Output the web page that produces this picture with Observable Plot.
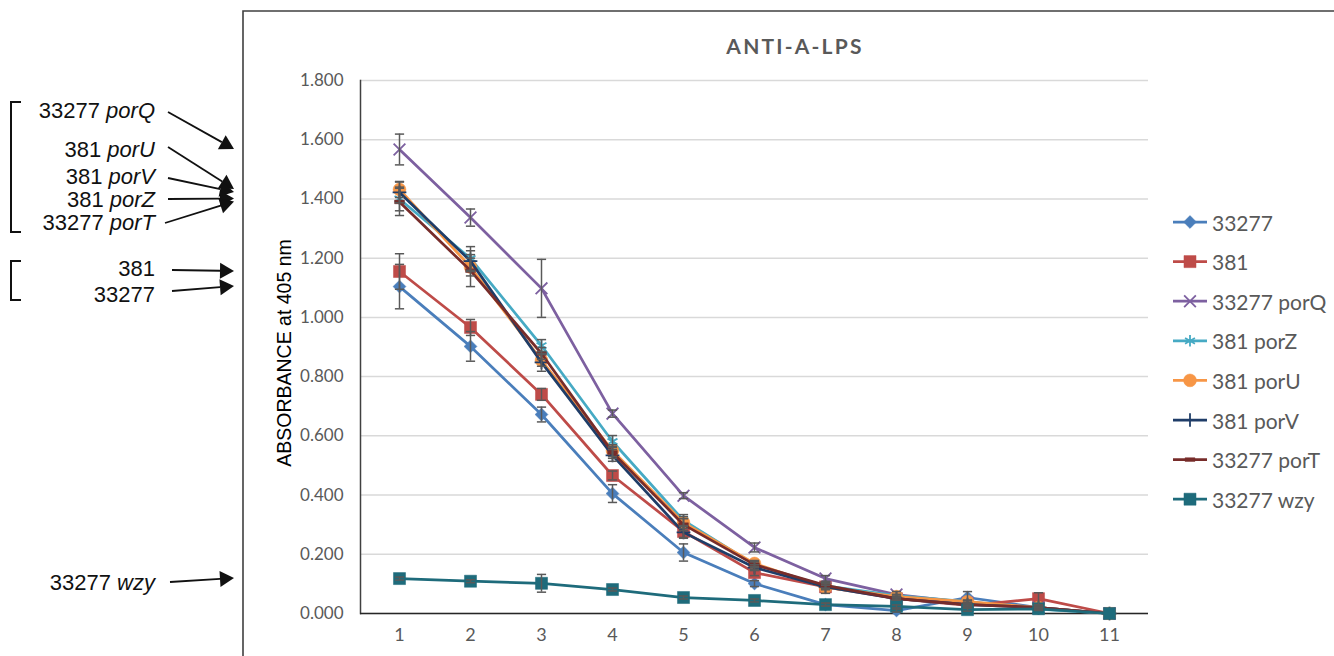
<!DOCTYPE html>
<html><head><meta charset="utf-8">
<script src="https://cdn.jsdelivr.net/npm/d3@7"></script>
<script src="https://cdn.jsdelivr.net/npm/@observablehq/plot@0.6"></script>
<style>
html,body{margin:0;padding:0;background:#fff;overflow:hidden;}
#wrap{position:relative;width:1334px;height:656px;}
#wrap > svg{position:absolute;left:0;top:0;}
</style></head><body><div id="wrap"></div>
<script>
// ---------- data ----------
const dilutions = [1,2,3,4,5,6,7,8,9,10,11];
const yTicks = [0,0.2,0.4,0.6,0.8,1.0,1.2,1.4,1.6,1.8];
const seriesNames = ["33277","381","33277 porQ","381 porZ","381 porU","381 porV","33277 porT","33277 wzy"];

const v33277     = [1.104,0.902,0.672,0.405,0.206,0.101,0.030,0.010,0.054,0.020,0];
const v381       = [1.155,0.966,0.740,0.466,0.277,0.138,0.090,0.050,0.027,0.050,0];
const v33277porQ = [1.567,1.337,1.098,0.675,0.398,0.223,0.118,0.064,0.037,0.020,0];
const v381porZ   = [1.400,1.199,0.905,0.581,0.314,0.165,0.093,0.060,0.040,0.015,0];
const v381porU   = [1.432,1.170,0.855,0.550,0.307,0.169,0.088,0.057,0.040,0.020,0];
const v381porV   = [1.422,1.190,0.848,0.534,0.274,0.155,0.090,0.050,0.030,0.020,0];
const v33277porT = [1.390,1.158,0.878,0.544,0.300,0.165,0.095,0.050,0.030,0.020,0];
const v33277wzy  = [0.118,0.109,0.102,0.081,0.054,0.044,0.030,0.024,0.013,0.016,0];

const e33277     = [0.075,0.050,0.025,0.030,0.029,0.010,0.005,0.005,0.020,0.005,0];
const e381       = [0.060,0.027,0.020,0.015,0.020,0.010,0.005,0.005,0.005,0.020,0];
const e33277porQ = [0.052,0.029,0.098,0.012,0.010,0.015,0.010,0.010,0.005,0.005,0];
const e381porZ   = [0.040,0.040,0.020,0.020,0.020,0.010,0.010,0.005,0.005,0.005,0];
const e381porU   = [0.027,0.030,0.020,0.020,0.020,0.010,0.020,0.005,0.005,0.005,0];
const e381porV   = [0.035,0.035,0.030,0.020,0.020,0.010,0.010,0.005,0.005,0.005,0];
const e33277porT = [0.046,0.054,0.020,0.020,0.020,0.010,0.010,0.005,0.005,0.005,0];
const e33277wzy  = [0.005,0.005,0.030,0.005,0.005,0.005,0.005,0.005,0.005,0.005,0];

const seriesValues = [v33277,v381,v33277porQ,v381porZ,v381porU,v381porV,v33277porT,v33277wzy];
const seriesErrors = [e33277,e381,e33277porQ,e381porZ,e381porU,e381porV,e33277porT,e33277wzy];

// ---------- styles ----------
const dashSym = {draw(ctx,size){const w=Math.sqrt(size)*0.95,h=w*0.38;ctx.rect(-w/2,-h/2,w,h);}};
const capSym = {draw(ctx,size){const w=Math.sqrt(size);ctx.moveTo(-w/2,0);ctx.lineTo(w/2,0);}};
const styles = [
  {color:"#4a7ebb", symbol:d3.symbolDiamond2, r:5.8, filled:true},
  {color:"#be4b48", symbol:d3.symbolSquare,   r:6.8, filled:true},
  {color:"#7d60a0", symbol:d3.symbolTimes,    r:5.4, filled:false},
  {color:"#46aac4", symbol:d3.symbolAsterisk, r:5.4, filled:false},
  {color:"#f79646", symbol:d3.symbolCircle,   r:6.4, filled:true},
  {color:"#1f3d68", symbol:d3.symbolPlus,     r:4.5, filled:false},
  {color:"#772c2a", symbol:dashSym,           r:5.8, filled:true},
  {color:"#1e6b7b", symbol:d3.symbolSquare,   r:6.8, filled:true}
];

const rows = [];
seriesNames.forEach((name,i)=>dilutions.forEach((x,j)=>rows.push({series:name, idx:i, x, v:seriesValues[i][j], e:seriesErrors[i][j]})));
const errRows = rows.filter(d=>d.e>0);

const marks = [
  Plot.gridY({ticks:yTicks, stroke:"#d9d9d9", strokeOpacity:1, strokeWidth:1.5}),
  Plot.axisY({ticks:yTicks, tickFormat:d3.format(".3f"), tickSize:0, tickPadding:17, fontSize:17, color:"#595959", label:null}),
  Plot.axisX({tickSize:0, tickPadding:15, fontSize:18, color:"#595959", label:null}),
  Plot.frame({anchor:"left", stroke:"#404040", strokeWidth:1.5}),
  Plot.ruleY([0], {stroke:"#262626", strokeWidth:1.5})
];
seriesNames.forEach((name,i)=>{
  const s = styles[i];
  const data = rows.filter(d=>d.idx===i);
  marks.push(Plot.line(data,{x:"x", y:"v", stroke:s.color, strokeWidth:2.75}));
  marks.push(Plot.dot(data,{x:"x", y:"v", symbol:s.symbol, r:s.r,
    fill: s.filled ? s.color : "none", stroke:s.color, strokeWidth: s.filled ? 0.5 : 1.8}));
});
marks.push(Plot.ruleX(errRows,{x:"x", y1:d=>d.v-d.e, y2:d=>d.v+d.e, stroke:"#595959", strokeWidth:1.5}));
marks.push(Plot.dot(errRows,{x:"x", y:d=>d.v+d.e, symbol:capSym, r:5.2, fill:"none", stroke:"#595959", strokeWidth:1.5}));
marks.push(Plot.dot(errRows,{x:"x", y:d=>d.v-d.e, symbol:capSym, r:5.2, fill:"none", stroke:"#595959", strokeWidth:1.5}));

const chart = Plot.plot({
  width:1334, height:656,
  marginLeft:360, marginRight:186, marginTop:80, marginBottom:43,
  style:{fontFamily:"Lato, 'Open Sans', sans-serif", background:"transparent"},
  x:{type:"point", domain:dilutions, padding:0.5},
  y:{domain:[0,1.8]},
  marks
});
const wrap = document.getElementById("wrap");
wrap.appendChild(chart);

// ---------- overlay: frame, title, y label, legend, annotations ----------
const ys = chart.scale("y");
const ov = d3.select(wrap).append("svg").attr("width",1334).attr("height",656)
  .style("pointer-events","none");

ov.append("path").attr("d","M243,656V11H1334").attr("fill","none").attr("stroke","#404040").attr("stroke-width",1.6);

ov.append("text").attr("x",795).attr("y",45).attr("text-anchor","middle").attr("dominant-baseline","central")
  .attr("font-family","Lato, sans-serif").attr("font-weight","bold").attr("font-size",21)
  .attr("letter-spacing","2.2px").attr("fill","#595959").text("ANTI-A-LPS");

ov.append("text").attr("transform","translate(284,353) rotate(-90)").attr("text-anchor","middle")
  .attr("dominant-baseline","central").attr("font-family","'Liberation Sans', Arial, sans-serif")
  .attr("font-size",19.5).attr("fill","#000").text("ABSORBANCE at 405 nm");

// legend
const legendTop = 222, legendStep = 39.6;
seriesNames.forEach((name,i)=>{
  const s = styles[i], y = legendTop + i*legendStep;
  const g = ov.append("g");
  g.append("line").attr("x1",1173).attr("x2",1207).attr("y1",y).attr("y2",y).attr("stroke",s.color).attr("stroke-width",2.75);
  g.append("path").attr("transform",`translate(1190,${y})`)
    .attr("d",d3.symbol(s.symbol, Math.PI*s.r*s.r)())
    .attr("fill", s.filled ? s.color : "none").attr("stroke", s.color).attr("stroke-width", s.filled?0.5:1.8);
  g.append("text").attr("x",1212).attr("y",y).attr("dominant-baseline","central")
    .attr("font-family","Lato, sans-serif").attr("font-size",21).attr("fill","#595959").text(name);
});

// left annotations
const annFont = "'Liberation Sans', Arial, sans-serif";
const ann = [
  {num:"33277 ", gene:"porQ", ty:110, sx:168, sy:112, target:v33277porQ[0]},
  {num:"381 ",   gene:"porU", ty:149, sx:168, sy:147, target:v381porU[0]},
  {num:"381 ",   gene:"porV", ty:176, sx:168, sy:178, target:v381porV[0]},
  {num:"381 ",   gene:"porZ", ty:199, sx:168, sy:199, target:v381porZ[0]},
  {num:"33277 ", gene:"porT", ty:222, sx:165, sy:223, target:v33277porT[0]},
  {num:"381",    gene:"",     ty:268, sx:172, sy:270, target:v381[0]},
  {num:"33277",  gene:"",     ty:294, sx:172, sy:291, target:v33277[0]},
  {num:"33277 ", gene:"wzy",  ty:582, sx:170, sy:582, target:v33277wzy[0]}
];
ann.forEach(a=>{
  const t = ov.append("text").attr("x",155).attr("y",a.ty).attr("text-anchor","end").attr("dominant-baseline","central")
    .attr("font-family",annFont).attr("font-size",22).attr("fill","#111");
  t.append("tspan").text(a.num);
  if (a.gene) t.append("tspan").attr("font-style","italic").text(a.gene);
  const tx = 234, ty = ys.apply(a.target);
  const ang = Math.atan2(ty - a.sy, tx - a.sx), L = 14, W = 8;
  const bx = tx - L*Math.cos(ang), by = ty - L*Math.sin(ang);
  ov.append("line").attr("x1",a.sx).attr("y1",a.sy).attr("x2",bx).attr("y2",by).attr("stroke","#111").attr("stroke-width",1.8);
  const px = -Math.sin(ang)*W, py = Math.cos(ang)*W;
  ov.append("path").attr("d",`M${tx},${ty}L${bx+px},${by+py}L${bx-px},${by-py}Z`).attr("fill","#111");
});
// brackets
ov.append("path").attr("d","M21,102H11V232H21").attr("fill","none").attr("stroke","#111").attr("stroke-width",2);
ov.append("path").attr("d","M21,261H11V300H21").attr("fill","none").attr("stroke","#111").attr("stroke-width",2);
</script></body></html>
